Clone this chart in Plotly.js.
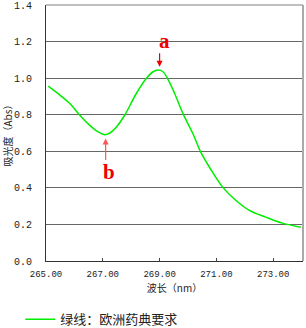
<!DOCTYPE html>
<html><head><meta charset="utf-8">
<script src="https://cdn.plot.ly/plotly-3.0.1.min.js"></script>
<style>html,body{margin:0;padding:0;background:#fff}#c{width:306px;height:328px}</style>
</head><body><div id="c"></div>
<script>
const wavelength = [265.08,265.49,265.84,266.19,266.54,266.84,267.07,267.25,267.48,267.77,268.18,268.53,268.77,268.94,269.12,269.29,269.53,269.82,270.17,270.45,270.75,271.22,271.68,272.16,272.74,273.33,273.97];
const absorbance = [0.956,0.907,0.861,0.797,0.742,0.706,0.691,0.700,0.733,0.797,0.916,0.998,1.035,1.044,1.035,0.995,0.916,0.807,0.697,0.595,0.514,0.404,0.332,0.277,0.240,0.207,0.185];
const xTicks = [265,267,269,271,273];
const xTickText = ["265.00","267.00","269.00","271.00","273.00"];
const yTicks = [0,0.2,0.4,0.6,0.8,1.0,1.2,1.4];
const yTickText = ["0.0","0.2","0.4","0.6","0.8","1.0","1.2","1.4"];
const seriesName = "绿线：欧洲药典要求";
const peakLabel = {text:"a", x:269.0, y:1.062, tx:269.17, ty:1.204};
const troughLabel = {text:"b", x:267.10, y:0.670, tx:267.23, ty:0.487};

const trace = {x: wavelength, y: absorbance, type:'scatter', mode:'lines', name: seriesName,
  line:{color:'#00ee00', width:1.5, shape:'spline', smoothing:1}};

const layout = {
  width:306, height:328,
  margin:{l:46, r:3, t:5, b:67, autoexpand:false},
  paper_bgcolor:'#fff', plot_bgcolor:'#fff',
  showlegend:true,
  legend:{orientation:'h', x:-0.1, xanchor:'left', y:-0.228, yanchor:'middle',
    font:{family:'Noto Sans CJK SC', size:13, color:'#222'}, bgcolor:'rgba(0,0,0,0)'},
  xaxis:{range:[265,274.05], tickvals:xTicks, ticktext:xTickText, ticks:'inside', ticklen:3,
    tickcolor:'#444', showgrid:false, zeroline:false, showline:true, linecolor:'#333', linewidth:1,
    tickfont:{family:'Liberation Mono', size:9, color:'#222'}, ticklabelstandoff:4,
    title:{text:'波长（nm）', font:{family:'Noto Sans CJK SC', size:10, color:'#222'}, standoff:5}},
  yaxis:{range:[0,1.4], tickvals:yTicks, ticktext:yTickText, ticks:'', showgrid:true,
    gridcolor:'#666', gridwidth:1, zeroline:false, showline:true, linecolor:'#333', linewidth:1,
    tickfont:{family:'Liberation Mono', size:10, color:'#222'}, ticklabelstandoff:11,
    title:{text:'吸光度（Abs）', font:{family:'Noto Sans CJK SC', size:10, color:'#222'}, standoff:2}},
  shapes:[
    {type:'line', xref:'paper', yref:'paper', x0:0, x1:1, y0:1, y1:1, line:{color:'#aaa', width:1.5}},
    {type:'line', xref:'paper', yref:'paper', x0:1, x1:1, y0:0, y1:1, line:{color:'#aaa', width:2}}
  ],
  annotations:[
    {x:peakLabel.x, y:peakLabel.y, xref:'x', yref:'y', text:'', showarrow:true, ax:0, ay:-15,
      arrowhead:2, arrowsize:1, arrowwidth:1.2, arrowcolor:'#ee0000'},
    {x:peakLabel.tx, y:peakLabel.ty, xref:'x', yref:'y', text:'<b>'+peakLabel.text+'</b>', showarrow:false,
      font:{family:'Liberation Serif', size:21, color:'#ee0000'}},
    {x:troughLabel.x, y:troughLabel.y, xref:'x', yref:'y', text:'', showarrow:true, ax:0, ay:23,
      arrowhead:2, arrowsize:1, arrowwidth:1.2, arrowcolor:'#ff5555'},
    {x:troughLabel.tx, y:troughLabel.ty, xref:'x', yref:'y', text:'<b>'+troughLabel.text+'</b>', showarrow:false,
      font:{family:'Liberation Serif', size:21, color:'#ee0000'}}
  ]
};
Plotly.newPlot('c', [trace], layout, {displayModeBar:false, staticPlot:true});
</script></body></html>
